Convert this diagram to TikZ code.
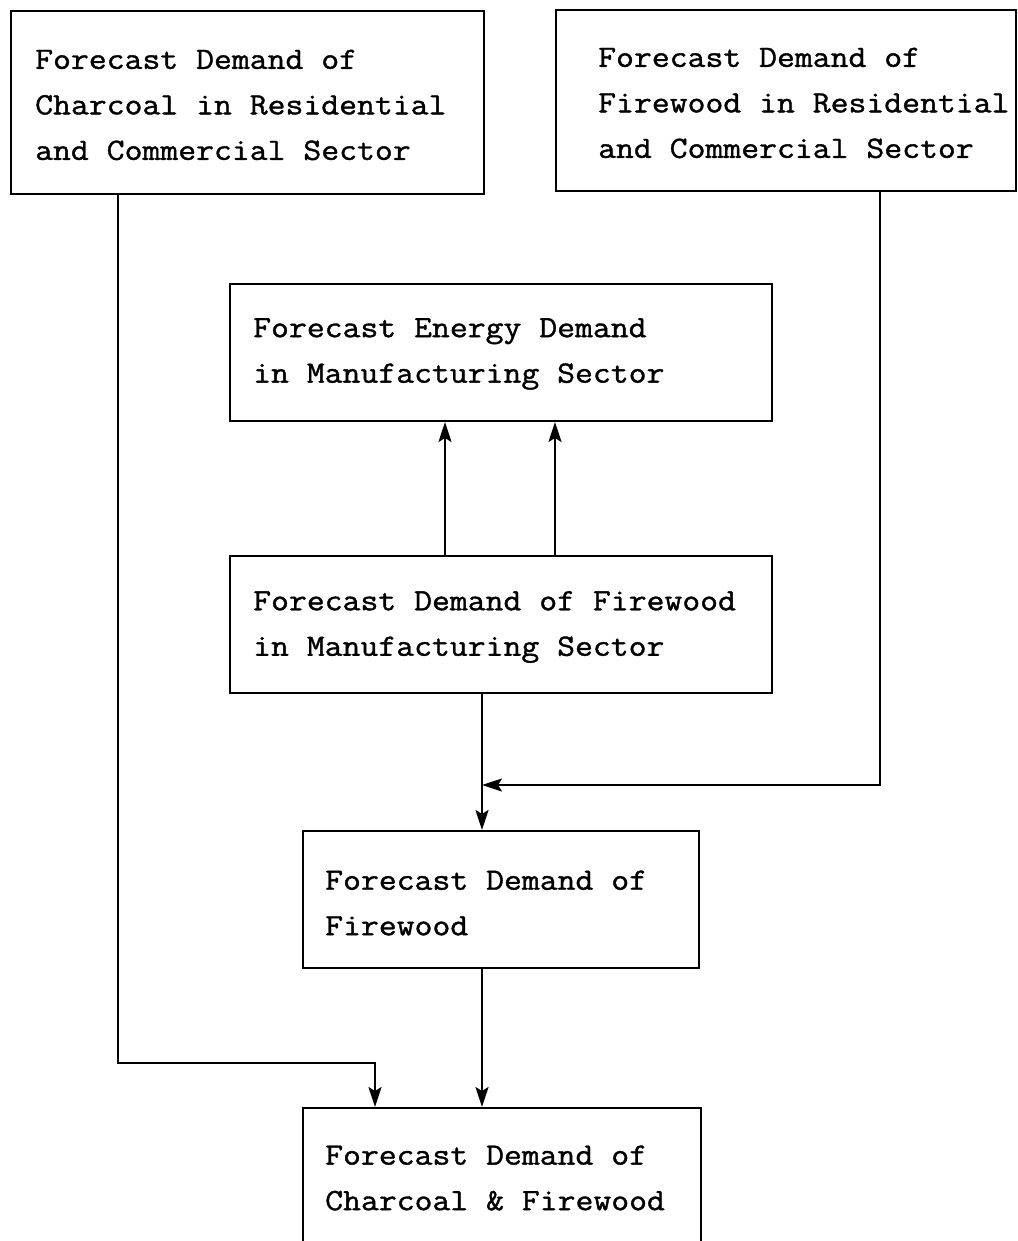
\documentclass[tikz,border=0pt]{standalone}
\usepackage{fontspec}
\setmonofont{Latin Modern Mono}[FakeStretch=1.12,FakeBold=1.2]
\usetikzlibrary{arrows.meta}
\begin{document}
\begin{tikzpicture}[x=1pt,y=-1pt,
  box/.style={draw, line width=2pt, inner sep=0pt, anchor=north west},
  txt/.style={anchor=west, align=left, inner sep=0pt, font=\ttfamily\fontsize{31}{45.5}\selectfont},
  link/.style={line width=2pt},
  arr/.style={link, -{Stealth[length=20pt,width=13pt,inset=4pt]}}]
\clip (0,0) rectangle (1017,1241);
\fill[white] (0,0) rectangle (1017,1241);
% boxes
\node[box, minimum width=473pt, minimum height=183pt] (A) at (10,10) {};
\node[box, minimum width=460pt, minimum height=181pt] (B) at (555,9) {};
\node[box, minimum width=542pt, minimum height=137pt] (C) at (229,283) {};
\node[box, minimum width=542pt, minimum height=137pt] (D) at (229,555) {};
\node[box, minimum width=396pt, minimum height=137pt] (E) at (302,830) {};
\node[box, minimum width=398pt, minimum height=137pt] (F) at (302,1107) {};
% texts
\node[txt] (At) at (35,105) {Forecast Demand of\\Charcoal in Residential\\and Commercial Sector};
\node[txt] (Bt) at (598,103) {Forecast Demand of\\Firewood in Residential\\and Commercial Sector};
\node[txt] (Ct) at (253,354) {Forecast Energy Demand\\in Manufacturing Sector};
\node[txt] (Dt) at (253,627) {Forecast Demand of Firewood\\in Manufacturing Sector};
\node[txt] (Et) at (325,903) {Forecast Demand of\\Firewood};
\node[txt] (Ft) at (325,1178) {Forecast Demand of\\Charcoal \& Firewood};
% connector helper points
\coordinate (ka) at (118,1063);
\coordinate (kf) at (375,1063);
\coordinate (kb) at (880,785);
\coordinate (kd) at (482,785);
\coordinate (u1) at (445,0);
\coordinate (u2) at (555,0);
% connectors
\draw[arr] (u1 |- D.north) -- (u1 |- C.south);
\draw[arr] (u2 |- D.north) -- (u2 |- C.south);
\draw[arr] (kd |- D.south) -- (kd |- E.north);
\draw[arr] (kb |- B.south) -- (kb) -- (kd);
\draw[arr] (kd |- E.south) -- (kd |- F.north);
\draw[arr] (ka |- A.south) -- (ka) -- (kf) -- (kf |- F.north);
\end{tikzpicture}
\end{document}
